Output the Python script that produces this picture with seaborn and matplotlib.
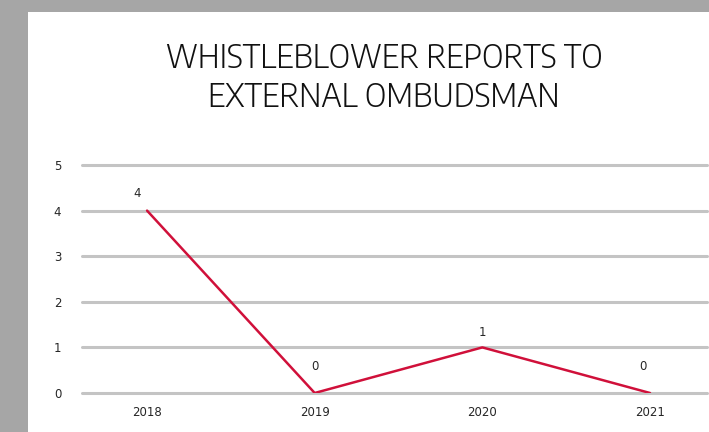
import matplotlib
matplotlib.use("Agg")
import matplotlib.pyplot as plt
import seaborn as sns
import pandas as pd
from matplotlib.patches import Rectangle

years = ["2018", "2019", "2020", "2021"]
reports = [4, 0, 1, 0]
y_ticks = [0, 1, 2, 3, 4, 5]
# label offsets (points) above each point
label_dx = [-7, 0, 0, -5]
label_dy = [12, 19, 11, 19]

df = pd.DataFrame({"year": years, "reports": reports})

sns.set_theme(style="white")
plt.rcParams["font.family"] = ["DejaVu Sans"]

W, H = 709, 432
fig = plt.figure(figsize=(W / 100, H / 100), dpi=100)
fig.patch.set_facecolor("#a6a6a6")

# white card behind the chart
fig.add_artist(Rectangle((28 / W, 0), 1 - 28 / W, 1 - 12 / H,
                         transform=fig.transFigure, facecolor="white",
                         edgecolor="none", zorder=0))

ax = fig.add_axes([82 / W, 1 - 393 / H, (707 - 82) / W, (393 - 165) / H])
ax.set_facecolor("none")

sns.lineplot(data=df, x="year", y="reports", ax=ax, color="#d0103a",
             linewidth=1.8, sort=False, zorder=3)

ax.set_ylim(0, 5)
ax.set_xlim(-0.388, 3.34)
ax.set_yticks(y_ticks)
ax.set_yticklabels([str(v) for v in y_ticks])
for v in y_ticks:
    ax.axhline(v, color="#c4c4c4", linewidth=2.2, zorder=1, clip_on=False)

for s in ax.spines.values():
    s.set_visible(False)
ax.tick_params(axis="both", length=0, labelsize=8.5, colors="#262626")
ax.tick_params(axis="y", pad=15)
ax.tick_params(axis="x", pad=9)
ax.set_xlabel("")
ax.set_ylabel("")

for i, v in enumerate(reports):
    ax.annotate(str(v), (i, v), xytext=(label_dx[i], label_dy[i]),
                textcoords="offset points", ha="center", va="center",
                fontsize=8.5, color="#262626")

fig.text(384 / W, 1 - 78 / H, "WHISTLEBLOWER REPORTS TO\nEXTERNAL OMBUDSMAN",
         ha="center", va="center", fontsize=23.5, fontweight=300,
         family=["Saira Semi Condensed", "Encode Sans Semi Condensed",
                 "Exo 2", "Open Sans"],
         color="#111111", linespacing=1.2)

fig.savefig("out.png", dpi=100, facecolor=fig.get_facecolor())
